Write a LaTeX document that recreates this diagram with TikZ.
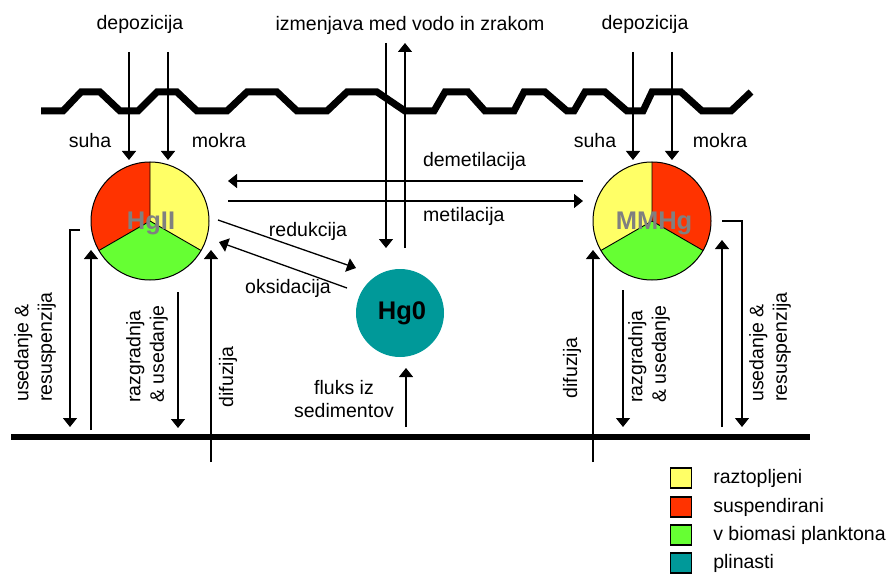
\documentclass[tikz,border=0pt]{standalone}
\usepackage{fontspec}
\setmainfont{Liberation Sans}
\usetikzlibrary{arrows.meta, positioning}
\definecolor{dissolvedyellow}{RGB}{255, 255, 102}
\definecolor{suspendedred}{RGB}{255, 51, 0}
\definecolor{planktongreen}{RGB}{102, 255, 51}
\definecolor{gasteal}{RGB}{0, 153, 153}
\definecolor{labelgray}{RGB}{128, 128, 128}

\begin{document}
\begin{tikzpicture}[x=1pt, y=1pt,
    flow/.style={line width=1.3pt, -{Triangle[width=14pt, length=9pt]}},
    plain/.style={line width=1.3pt},
    lbl/.style={font=\fontsize{19.5}{23.5}\selectfont, inner sep=0pt},
    vlbl/.style={lbl, rotate=90, align=left},
    species/.style={font=\fontsize{25.5}{30}\selectfont\bfseries, inner sep=0pt},
    key/.style={draw, line width=1.2pt, minimum width=21pt, minimum height=20pt, inner sep=0pt}]
    \useasboundingbox (0,0) rectangle (888,574);

    % water surface and sediment
    \draw[line width=7pt] (41,463) -- (63,463) -- (81,482) -- (100,482) -- (120,463) -- (138,463)
        -- (157,482) -- (177,482) -- (197,463) -- (227,463) -- (247,482) -- (277,482) -- (297,463)
        -- (327,463) -- (347,482) -- (377,482) -- (405,463) -- (434,463) -- (445,482) -- (468,482)
        -- (485,463) -- (514,463) -- (524,482) -- (545,482) -- (567,463) -- (574,463) -- (585,482)
        -- (605,482) -- (627,463) -- (643,463) -- (652,482) -- (681,482) -- (702,463) -- (731,463)
        -- (751,482);
    \draw[line width=6pt] (11,137) -- (810,137);

    % HgII
    \coordinate (hgiic) at (150,353);
    \fill[dissolvedyellow] (hgiic) -- ++(90:59pt) arc[start angle=90, end angle=-30, radius=59pt] -- cycle;
    \fill[suspendedred] (hgiic) -- ++(90:59pt) arc[start angle=90, end angle=210, radius=59pt] -- cycle;
    \fill[planktongreen] (hgiic) -- ++(210:59pt) arc[start angle=210, end angle=330, radius=59pt] -- cycle;
    \draw[line width=0.9pt] (hgiic) -- ++(90:59pt) (hgiic) -- ++(210:59pt) (hgiic) -- ++(330:59pt);
    \node[circle, draw, line width=1pt, minimum size=118pt, inner sep=0pt] (hgii) at (hgiic) {};
    \node[species, text=labelgray] (hgiilbl) at (151,351) {HgII};

    % MMHg
    \coordinate (mmhgc) at (652,353);
    \fill[dissolvedyellow] (mmhgc) -- ++(90:59pt) arc[start angle=90, end angle=210, radius=59pt] -- cycle;
    \fill[suspendedred] (mmhgc) -- ++(90:59pt) arc[start angle=90, end angle=-30, radius=59pt] -- cycle;
    \fill[planktongreen] (mmhgc) -- ++(210:59pt) arc[start angle=210, end angle=330, radius=59pt] -- cycle;
    \draw[line width=0.9pt] (mmhgc) -- ++(90:59pt) (mmhgc) -- ++(210:59pt) (mmhgc) -- ++(330:59pt);
    \node[circle, draw, line width=1pt, minimum size=118pt, inner sep=0pt] (mmhg) at (mmhgc) {};
    \node[species, text=labelgray] (mmhglbl) at (654,351) {MMHg};

    % Hg0
    \node[circle, fill=gasteal, minimum size=88pt, inner sep=0pt] (hgz) at (400,261) {};
    \node[species] (hgzlbl) at (402,261) {Hg0};

    % deposition
    \node[lbl] (depl) at (140,550) {depozicija};
    \node[lbl] (depr) at (645,550) {depozicija};
    \node[lbl] (suhal) at (90,433) {suha};
    \node[lbl] (mokral) at (219,433) {mokra};
    \node[lbl] (suhar) at (595,433) {suha};
    \node[lbl] (mokrar) at (720,433) {mokra};
    \coordinate (dryl) at (129,522);
    \coordinate (wetl) at (168,522);
    \coordinate (dryr) at (633,522);
    \coordinate (wetr) at (672,522);
    \draw[flow] (dryl) -- ++(0,-108);
    \draw[flow] (wetl) -- ++(0,-108);
    \draw[flow] (dryr) -- ++(0,-108);
    \draw[flow] (wetr) -- ++(0,-108);

    % water-air exchange
    \node[lbl] (exch) at (410,549) {izmenjava med vodo in zrakom};
    \coordinate (exdown) at (386,531);
    \coordinate (exup) at (405,326);
    \draw[flow] (exdown) -- (exdown |- exup);
    \draw[flow] (exup) -- (exup |- exdown);

    % (de)methylation
    \coordinate (meth) at (228,373);
    \coordinate (demeth) at (583,393);
    \draw[flow] (demeth) -- (meth |- demeth);
    \draw[flow] (meth) -- (demeth |- meth);
    \node[lbl] (demethlbl) at (474.5,413) {demetilacija};
    \node[lbl, anchor=west] (methlbl) at (423,358) {metilacija};

    % redox
    \coordinate (redstart) at (218,354);
    \coordinate (redend) at (356,306);
    \coordinate (oxstart) at (347,286);
    \coordinate (oxend) at (219,332);
    \draw[flow] (redstart) -- (redend);
    \draw[flow] (oxstart) -- (oxend);
    \node[lbl] (redlbl) at (308,343) {redukcija};
    \node[lbl] (oxlbl) at (288,286) {oksidacija};

    % sediment flux
    \coordinate (fluxbase) at (406,147);
    \draw[flow] (fluxbase) -- ++(0,59);
    \node[lbl, align=center] (fluxlbl) at (344,175) {fluks iz\\sedimentov};

    % left water column
    \coordinate (settlel) at (80,344);
    \coordinate (resusl) at (91,144);
    \coordinate (degl) at (178,282);
    \coordinate (diffl) at (211,112);
    \draw[flow] (settlel) -- (70,344) -- (70,147);
    \draw[flow] (resusl) -- ++(0,180);
    \draw[flow] (degl) -- ++(0,-136);
    \draw[flow] (diffl) -- ++(0,212);
    \node[vlbl] (settlellbl) at (35,227) {usedanje \&\\resuspenzija};
    \node[vlbl] (deglbl) at (147,220) {razgradnja\\\& usedanje};
    \node[vlbl] (difflbl) at (228,197) {difuzija};

    % right water column
    \coordinate (diffr) at (593,112);
    \coordinate (degr) at (623,284);
    \coordinate (resusr) at (722,147);
    \coordinate (settler) at (722,353);
    \draw[flow] (diffr) -- ++(0,212);
    \draw[flow] (degr) -- ++(0,-137);
    \draw[flow] (resusr) -- ++(0,187);
    \draw[flow] (settler) -- (742,353) -- (742,147);
    \node[vlbl] (diffrlbl) at (572,206) {difuzija};
    \node[vlbl] (degrlbl) at (649,220) {razgradnja\\\& usedanje};
    \node[vlbl] (settlerlbl) at (770,227) {usedanje \&\\resuspenzija};

    % legend
    \node[key, fill=dissolvedyellow] (k1) at (681,96) {};
    \node[key, fill=suspendedred] (k2) at (681,67) {};
    \node[key, fill=planktongreen] (k3) at (681,39) {};
    \node[key, fill=gasteal] (k4) at (681,11) {};
    \node[lbl, right=21pt of k1] (t1) {raztopljeni};
    \node[lbl, right=21pt of k2] (t2) {suspendirani};
    \node[lbl, right=21pt of k3] (t3) {v biomasi planktona};
    \node[lbl, right=21pt of k4] (t4) {plinasti};
\end{tikzpicture}
\end{document}
